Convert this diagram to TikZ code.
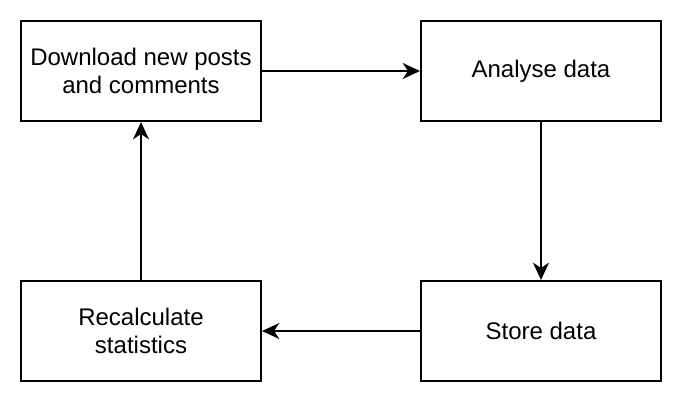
\documentclass[tikz,border=0pt]{standalone}
\usepackage{fontspec}
\setmainfont{Liberation Sans}
\usetikzlibrary{arrows.meta}
\begin{document}
\begin{tikzpicture}[x=0.75pt,y=-0.75pt,
  box/.style={draw, line width=1.5pt, minimum width=180pt, minimum height=75pt, inner sep=0pt,
    align=center, font=\fontsize{18}{21}\selectfont},
  conn/.style={draw, line width=1.5pt, -{Stealth[length=13pt,width=12pt,inset=4pt]}}]
\useasboundingbox (0,0) rectangle (682,402);
\node[box] (dl) at (141,71) {Download new posts\\and comments};
\node[box] (an) at (541,71) {Analyse data};
\node[box] (st) at (541,331) {Store data};
\node[box] (rc) at (141,331) {Recalculate\\statistics};
\draw[conn] (dl) -- (an);
\draw[conn] (an) -- (st);
\draw[conn] (st) -- (rc);
\draw[conn] (rc) -- (dl);
\end{tikzpicture}
\end{document}
